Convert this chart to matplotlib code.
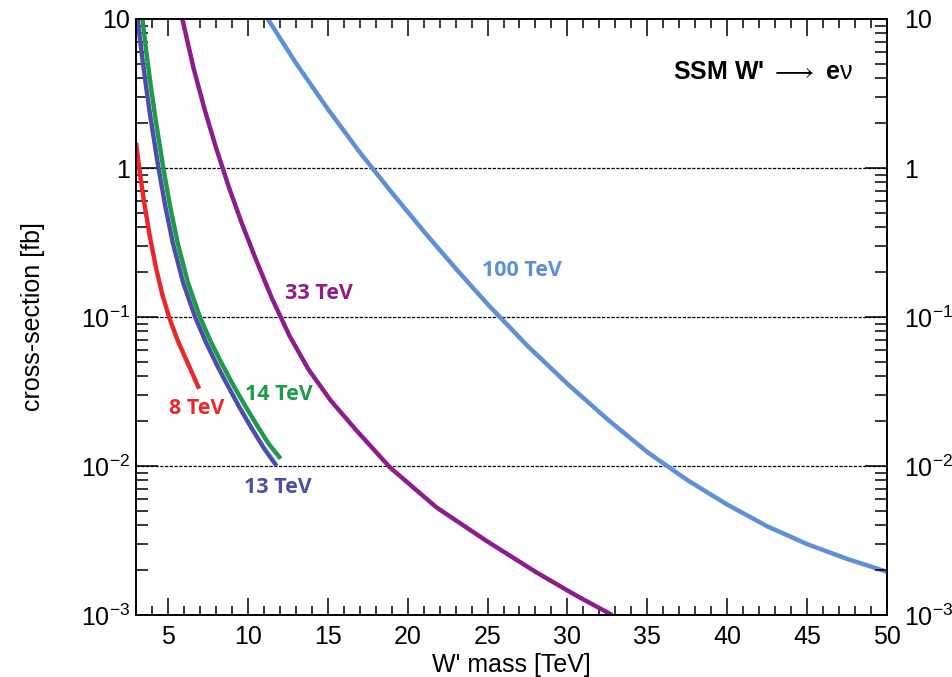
import matplotlib
matplotlib.use("Agg")
import matplotlib.pyplot as plt
from matplotlib.ticker import FixedLocator, MultipleLocator, LogLocator, NullFormatter, FixedFormatter

plt.rcParams['font.family'] = ['Liberation Sans', 'DejaVu Sans']
plt.rcParams['mathtext.fontset'] = 'custom'
plt.rcParams['mathtext.rm'] = 'Liberation Sans'
plt.rcParams['mathtext.it'] = 'Liberation Sans:italic'
plt.rcParams['mathtext.bf'] = 'Liberation Sans:bold'

# W' masse [TeV] og tverrsnitt [fb], lest av figuren
masse_8 = [3.0, 3.2, 3.5, 3.85, 4.25, 4.65, 5.1, 5.6, 6.2, 6.95]
xsek_8 = [1.48, 1.0, 0.596, 0.355, 0.214, 0.141, 0.0977, 0.070, 0.050, 0.033]

masse_13 = [3.1, 3.35, 3.6, 3.9, 4.4, 4.85, 5.3, 5.95, 6.7, 7.4, 8.1, 8.8, 9.5, 10.2, 11.0, 11.8]
xsek_13 = [10.0, 5.96, 3.72, 2.21, 1.01, 0.543, 0.316, 0.170, 0.1, 0.0668, 0.0468, 0.0337,
           0.0245, 0.0182, 0.0132, 0.01]

masse_14 = [3.4, 3.65, 3.9, 4.2, 4.7, 5.15, 5.6, 6.25, 7.0, 7.7, 8.4, 9.1, 9.8, 10.5, 11.3, 12.05]
xsek_14 = [10.0, 5.96, 3.72, 2.21, 1.01, 0.543, 0.316, 0.170, 0.1, 0.0676, 0.0479, 0.0347,
           0.0257, 0.0193, 0.0141, 0.0112]

masse_33 = [5.9, 6.6, 7.3, 8.0, 8.8, 9.6, 10.5, 11.5, 12.6, 13.8, 15.2, 16.8, 18.9, 21.8,
            24.9, 28.0, 30.5, 32.8]
xsek_33 = [10.0, 4.69, 2.46, 1.377, 0.750, 0.4315, 0.244, 0.134, 0.075, 0.0444, 0.0274,
           0.0173, 0.00977, 0.00528, 0.00316, 0.00195, 0.00136, 0.001]

masse_100 = [11.25, 13, 15, 17, 19, 21, 23, 25, 27.5, 30, 32.5, 35, 37.5, 40, 42.5, 45, 47.5, 50]
xsek_100 = [10.0, 5.08, 2.49, 1.276, 0.6855, 0.377, 0.212, 0.122, 0.064, 0.0356, 0.0206,
            0.0124, 0.00805, 0.00551, 0.00394, 0.00299, 0.00238, 0.00195]

kurver = [
    (masse_8, xsek_8, "#e8282b", "8 TeV", 6.82, 0.0245),
    (masse_13, xsek_13, "#4b4faa", "13 TeV", 11.9, 0.0072),
    (masse_14, xsek_14, "#1f9a4a", "14 TeV", 11.95, 0.030),
    (masse_33, xsek_33, "#8c1d8c", "33 TeV", 14.45, 0.143),
    (masse_100, xsek_100, "#5e90d8", "100 TeV", 27.16, 0.206),
]

y_ticks = [1e-3, 1e-2, 1e-1, 1, 10]
y_labels = [r'$10^{-3}$', r'$10^{-2}$', r'$10^{-1}$', '1', '10']

fig = plt.figure(figsize=(9.53, 6.77), dpi=100)
ax = fig.add_axes([136/953, 62/677, 751/953, 596/677])

# stiplede hjelpelinjer
for yv in [1, 0.1, 0.01]:
    ax.axhline(yv, color="black", lw=0.9, linestyle=(0, (2.6, 1.2)), zorder=1)

for masse, xsek, farge, navn, tx, ty in kurver:
    ax.plot(masse, xsek, color=farge, lw=3.2, solid_capstyle="butt",
            solid_joinstyle="round", zorder=3)
    ax.text(tx, ty, navn, color=farge, fontsize=15.5, fontweight="bold",
            family=["Open Sans", "DejaVu Sans"], ha="center", va="center")

ax.text(47.87, 4.41, r"SSM W' $\longrightarrow$ e$\mathrm{\nu}$", fontsize=18,
        fontweight="bold", ha="right", va="center")

ax.set_xlim(3, 50)
ax.set_yscale("log")
ax.set_ylim(1e-3, 10)

ax.xaxis.set_major_locator(MultipleLocator(5))
ax.xaxis.set_minor_locator(MultipleLocator(1))
ax.yaxis.set_major_locator(FixedLocator(y_ticks))
ax.yaxis.set_major_formatter(FixedFormatter(y_labels))
ax.yaxis.set_minor_locator(LogLocator(base=10, subs=range(2, 10)))
ax.yaxis.set_minor_formatter(NullFormatter())

ax.tick_params(axis="x", which="major", direction="in", top=True, length=12, width=1.1,
               labelsize=18, pad=7)
ax.tick_params(axis="x", which="minor", direction="in", top=True, length=6.5, width=1.1)
ax.tick_params(axis="y", which="major", direction="in", right=False, length=16, width=1.1,
               labelsize=18, pad=4)
ax.tick_params(axis="y", which="minor", direction="in", right=False, length=8.5, width=1.1)

# høyre akse med egne tall
ax2 = ax.twinx()
ax2.set_yscale("log")
ax2.set_ylim(1e-3, 10)
ax2.yaxis.set_major_locator(FixedLocator(y_ticks))
ax2.yaxis.set_major_formatter(FixedFormatter(y_labels))
ax2.yaxis.set_minor_locator(LogLocator(base=10, subs=range(2, 10)))
ax2.yaxis.set_minor_formatter(NullFormatter())
ax2.tick_params(axis="y", which="major", direction="in", length=16, width=1.1,
                labelsize=18, pad=12)
ax2.tick_params(axis="y", which="minor", direction="in", length=8.5, width=1.1)

for a in (ax, ax2):
    for s in a.spines.values():
        s.set_linewidth(1.2)

ax.set_xlabel("W' mass [TeV]", fontsize=18)
ax.set_ylabel("cross-section [fb]", fontsize=18)
ax.xaxis.set_label_coords(0.5, -0.064)
ax.yaxis.set_label_coords(-0.121, 0.5)

fig.savefig("out.png", dpi=100)
